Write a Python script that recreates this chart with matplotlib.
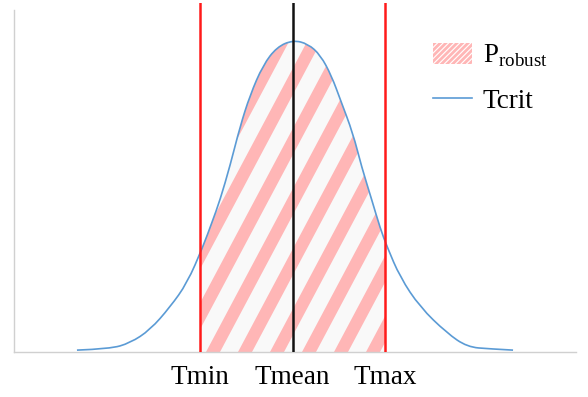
import numpy as np
import matplotlib
matplotlib.use("Agg")
import matplotlib.pyplot as plt
from matplotlib.patches import PathPatch, Patch
from matplotlib.path import Path
from matplotlib.lines import Line2D

plt.rcParams['font.family'] = ['Liberation Serif', 'DejaVu Serif']
plt.rcParams['mathtext.fontset'] = 'custom'
plt.rcParams['mathtext.rm'] = 'Liberation Serif'
plt.rcParams['hatch.linewidth'] = 2.0

# Tcrit curve
curve_x = [-4.66, -3.95, -3.51, -3.08, -2.65, -2.28, -1.94, -1.74, -1.57, -1.35,
           -1.14, -0.92, -0.64, -0.34, 0.01, 0.33, 0.60, 0.84, 1.04, 1.30,
           1.49, 1.71, 1.89, 2.04, 2.32, 2.75, 3.33, 3.77, 4.26, 4.76]
curve_y = [0.006, 0.010, 0.029, 0.071, 0.144, 0.221, 0.337, 0.417, 0.487, 0.599,
           0.721, 0.824, 0.920, 0.978, 1.000, 0.988, 0.952, 0.885, 0.805, 0.702,
           0.593, 0.487, 0.397, 0.337, 0.240, 0.144, 0.061, 0.016, 0.010, 0.006]

t_min, t_mean, t_max = -2.0, 0.0, 2.0
tick_labels = ["Tmin", "Tmean", "Tmax"]

pink = "#ffb6b6"
blue = "#5b9bd5"


def smooth_path(xs, ys):
    # quadratic bezier through the midpoints, read points used as control points
    pts = np.column_stack([xs, ys])
    verts = [pts[0]]
    codes = [Path.MOVETO]
    for i in range(1, len(pts) - 1):
        mid = (pts[i] + pts[i + 1]) / 2
        if i == len(pts) - 2:
            mid = pts[i + 1]
        verts += [pts[i], mid]
        codes += [Path.CURVE3, Path.CURVE3]
    return verts, codes


fig = plt.figure(figsize=(5.88, 3.97), dpi=100)
ax_l, ax_b, ax_w, ax_h = 14 / 588, 45 / 397, 562 / 588, 349 / 397
ax = fig.add_axes([ax_l, ax_b, ax_w, ax_h])
x_lo, x_hi = -6.02, 6.12
ax.set_xlim(x_lo, x_hi)
ax.set_ylim(0, 1.119)

cx = np.array(curve_x)
cy = np.array(curve_y)
verts, codes = smooth_path(cx, cy)

# area under the curve
area_verts = verts + [(cx[-1], 0), (cx[0], 0), verts[0]]
area_codes = codes + [Path.LINETO, Path.LINETO, Path.CLOSEPOLY]
area = PathPatch(Path(area_verts, area_codes), transform=ax.transData)

band = ax.axvspan(t_min, t_max, color="#f9f9f9", lw=0, zorder=1)
band.set_clip_path(area)

# wide diagonal stripes, drawn in pixel units of the axes
W, H = 562.0, 349.0
period, width = 32.0, 14.0
shift = H / np.tan(np.radians(62))
for k in range(-15, 25):
    x0 = k * period
    px = np.array([x0, x0 + width, x0 + width + shift, x0 + shift]) / W
    py = np.array([0, 0, H, H]) / H
    for p in ax.fill(px, py, transform=ax.transAxes, color=pink, lw=0, zorder=2):
        p.set_clip_path(area)

# keep the stripes between Tmin and Tmax only
ax.axvspan(x_lo, t_min, color="white", lw=0, zorder=2.1)
ax.axvspan(t_max, x_hi, color="white", lw=0, zorder=2.1)

ax.add_patch(PathPatch(Path(verts, codes), facecolor="none", edgecolor=blue,
                       lw=1.2, zorder=3))
ax.axvline(t_min, color="#ff1a1a", lw=1.8, zorder=4)
ax.axvline(t_max, color="#ff1a1a", lw=1.8, zorder=4)
ax.axvline(t_mean, color="#111111", lw=1.8, zorder=4)

for s in ["top", "right"]:
    ax.spines[s].set_visible(False)
for s in ["left", "bottom"]:
    ax.spines[s].set_color("#d0d0d0")
    ax.spines[s].set_linewidth(1.0)
    ax.spines[s].set_zorder(2.5)
ax.spines["left"].set_bounds(0, 1.096)

ax.set_yticks([])
ax.set_xticks([t_min, t_mean, t_max], tick_labels, fontsize=19.5)
ax.tick_params(axis="x", length=0, pad=9)

handles = [Patch(facecolor="white", edgecolor=pink, hatch="//////", lw=0),
           Line2D([], [], color=blue, lw=1.2)]
ax.legend(handles, [r"P$_{\mathrm{robust}}$", "Tcrit"], loc="upper left",
          bbox_to_anchor=(0.721, 0.925), frameon=False, fontsize=19.5,
          handlelength=1.45, handleheight=0.8, handletextpad=0.4,
          labelspacing=0.7, borderpad=0)

fig.savefig("out.png", dpi=100)
